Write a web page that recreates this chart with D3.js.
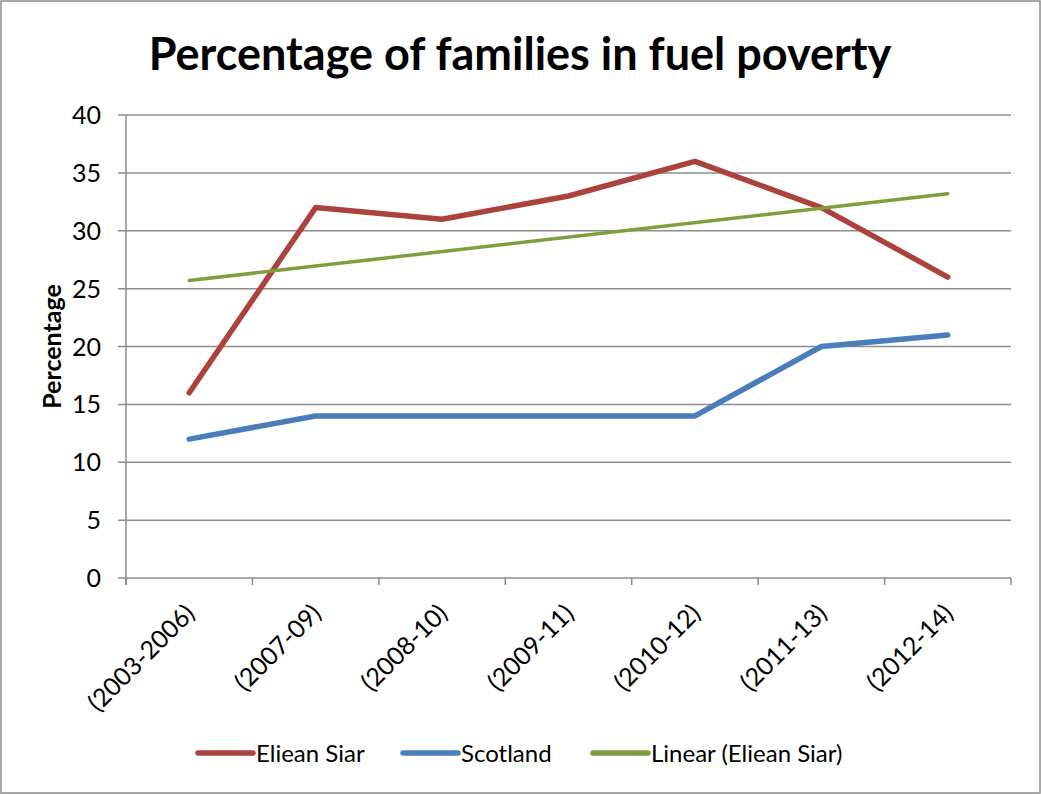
<!DOCTYPE html>
<html>
<head>
<meta charset="utf-8">
<script src="https://cdn.jsdelivr.net/npm/d3@7"></script>
<style>
  body { margin: 0; background: #fff; }
  svg text { font-family: Lato, "Open Sans", sans-serif; fill: #000; }
</style>
</head>
<body>
<div id="chart"></div>
<script>
const categories = ["(2003-2006)", "(2007-09)", "(2008-10)", "(2009-11)", "(2010-12)", "(2011-13)", "(2012-14)"];
const elieanSiar = [16, 32, 31, 33, 36, 32, 26];
const scotland = [12, 14, 14, 14, 14, 20, 21];
// trendline end points
const trendCats = ["(2003-2006)", "(2012-14)"];
const trendValues = [25.7, 33.2];
const yTicks = [0, 5, 10, 15, 20, 25, 30, 35, 40];

const width = 1041;
const height = 795;
const margin = { top: 115, right: 30, bottom: 217, left: 126 };

const svg = d3.select("#chart")
  .append("svg")
  .attr("width", width)
  .attr("height", height);

// outer border
svg.append("rect")
  .attr("x", 1).attr("y", 1)
  .attr("width", width - 2).attr("height", height - 3)
  .attr("fill", "#fff")
  .attr("stroke", "#8c8c8c")
  .attr("stroke-width", 1.5);

const x = d3.scaleBand()
  .domain(categories)
  .range([margin.left, width - margin.right]);

const y = d3.scaleLinear()
  .domain([0, 40])
  .range([height - margin.bottom, margin.top]);

// gridlines
svg.append("g")
  .selectAll("line")
  .data(yTicks)
  .enter()
  .append("line")
  .attr("x1", margin.left - 8)
  .attr("x2", width - margin.right)
  .attr("y1", d => y(d))
  .attr("y2", d => y(d))
  .attr("stroke", "#8c8c8c")
  .attr("stroke-width", 1.5);

// y axis line
svg.append("line")
  .attr("x1", margin.left).attr("x2", margin.left)
  .attr("y1", y(40)).attr("y2", y(0) + 7)
  .attr("stroke", "#8c8c8c")
  .attr("stroke-width", 1.5);

// x tick marks at category boundaries
const boundaries = categories.map(c => x(c)).concat([x(categories[categories.length - 1]) + x.bandwidth()]);
svg.append("g")
  .selectAll("line")
  .data(boundaries)
  .enter()
  .append("line")
  .attr("x1", d => d).attr("x2", d => d)
  .attr("y1", y(0)).attr("y2", y(0) + 7)
  .attr("stroke", "#8c8c8c")
  .attr("stroke-width", 1.5);

// y tick labels
svg.append("g")
  .selectAll("text")
  .data(yTicks)
  .enter()
  .append("text")
  .attr("x", margin.left - 25)
  .attr("y", d => y(d))
  .attr("dy", "0.36em")
  .attr("text-anchor", "end")
  .style("font-size", "25px")
  .text(d => d);

// x tick labels, rotated
svg.append("g")
  .selectAll("text")
  .data(categories)
  .enter()
  .append("text")
  .attr("text-anchor", "end")
  .attr("transform", d => `translate(${x(d) + x.bandwidth() / 2 + 7},${y(0) + 37}) rotate(-45)`)
  .style("font-size", "25px")
  .text(d => d);

const cx = d => x(d) + x.bandwidth() / 2;

const line = d3.line()
  .x(d => cx(d[0]))
  .y(d => y(d[1]));

svg.append("path")
  .datum(d3.zip(categories, scotland))
  .attr("d", line)
  .attr("fill", "none")
  .attr("stroke", "#4a7ebb")
  .attr("stroke-width", 5.5)
  .attr("stroke-linecap", "round")
  .attr("stroke-linejoin", "round");

svg.append("path")
  .datum(d3.zip(categories, elieanSiar))
  .attr("d", line)
  .attr("fill", "none")
  .attr("stroke", "#ac423e")
  .attr("stroke-width", 5.5)
  .attr("stroke-linecap", "round")
  .attr("stroke-linejoin", "round");

svg.append("path")
  .datum(d3.zip(trendCats, trendValues))
  .attr("d", line)
  .attr("fill", "none")
  .attr("stroke", "#7f9f3e")
  .attr("stroke-width", 3.5)
  .attr("stroke-linecap", "round");

// title
svg.append("text")
  .attr("x", 520)
  .attr("y", 70)
  .attr("text-anchor", "middle")
  .style("font-size", "45px")
  .style("font-weight", "bold")
  .text("Percentage of families in fuel poverty");

// y axis title
svg.append("text")
  .attr("transform", `translate(61,${(y(0) + y(40)) / 2}) rotate(-90)`)
  .attr("text-anchor", "middle")
  .style("font-size", "25px")
  .style("font-weight", "bold")
  .text("Percentage");

// legend
const legendItems = [
  { name: "Eliean Siar", color: "#ac423e", x: 198 },
  { name: "Scotland", color: "#4a7ebb", x: 403 },
  { name: "Linear (Eliean Siar)", color: "#7f9f3e", x: 593 }
];
const legend = svg.append("g")
  .selectAll("g")
  .data(legendItems)
  .enter()
  .append("g")
  .attr("transform", d => `translate(${d.x},753)`);

legend.append("line")
  .attr("x1", 0).attr("x2", 55)
  .attr("stroke", d => d.color)
  .attr("stroke-width", 5.5)
  .attr("stroke-linecap", "round");

legend.append("text")
  .attr("x", 58)
  .attr("dy", "0.36em")
  .style("font-size", "24px")
  .text(d => d.name);
</script>
</body>
</html>
